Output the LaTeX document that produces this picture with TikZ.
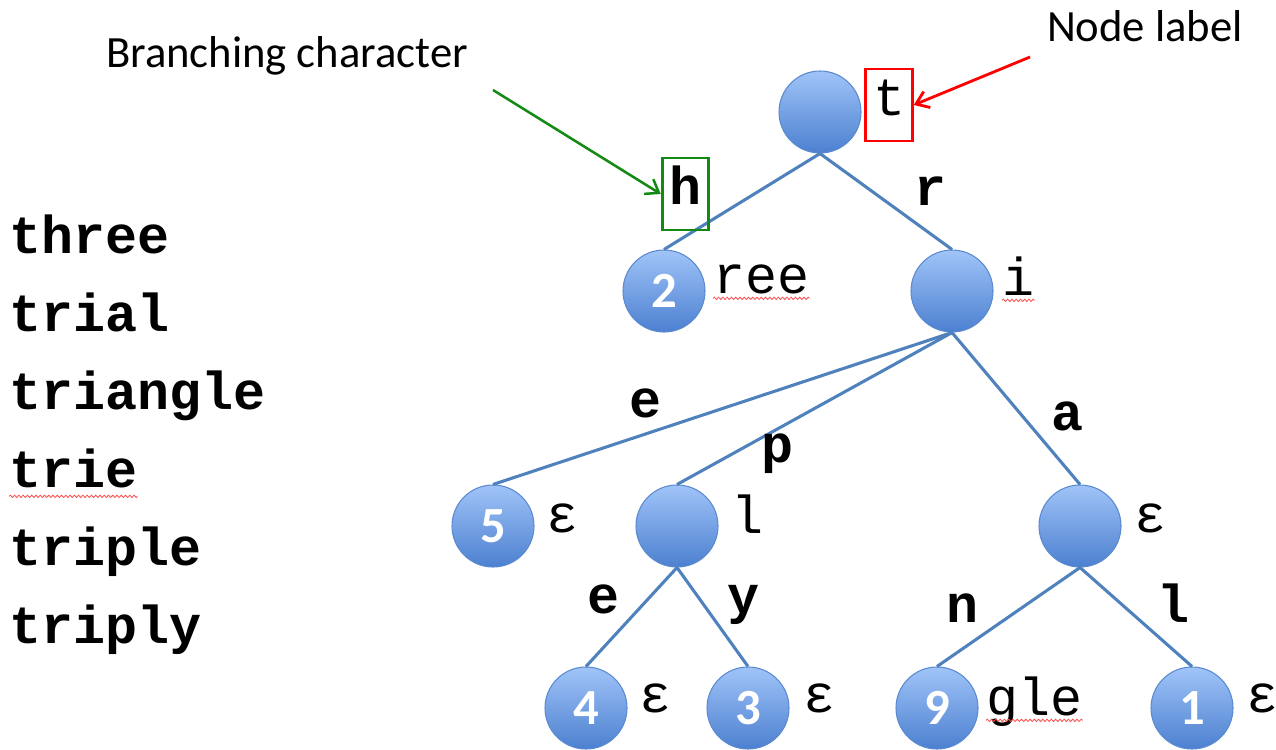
\documentclass[tikz,border=0pt]{standalone}
\usepackage{fontspec}
\setmainfont{Carlito}
\setmonofont{Liberation Mono}
\usetikzlibrary{arrows.meta,decorations.pathmorphing}
\definecolor{edgeblue}{HTML}{4F81BD}
\definecolor{ringblue}{HTML}{5A8AD0}
\definecolor{topblue}{HTML}{A0C4F8}
\definecolor{botblue}{HTML}{4C80D0}
\definecolor{boxgreen}{HTML}{138A13}

\begin{document}
\begin{tikzpicture}[x=0.75pt,y=-0.75pt,>={Straight Barb[length=9pt,width=13pt]},
  trie/.style={circle,draw=ringblue,line width=0.8pt,minimum size=61.5pt,inner sep=0pt,
    top color=topblue,bottom color=botblue,text=white,font=\fontsize{38}{38}\selectfont\bfseries},
  branch/.style={edgeblue,line width=2.3pt},
  lab/.style={anchor=base west,inner sep=0pt,font=\ttfamily\fontsize{40}{40}\selectfont},
  chr/.style={anchor=base,inner sep=0pt,font=\ttfamily\bfseries\fontsize{40}{40}\selectfont},
  word/.style={chr,anchor=base west},
  hint/.style={anchor=base,font=\fontsize{33.5}{33.5}\selectfont},
  markbox/.style={draw=#1,line width=2.1pt,inner sep=0pt,text height=24pt,text depth=8pt,
    minimum height=54pt,minimum width=35pt},
  squiggle/.style={red!70,line width=0.6pt,decorate,
    decoration={snake,amplitude=0.9pt,segment length=3.2pt}}]
  \path[use as bounding box] (0,0) rectangle (1276,749);

  \node[trie] (root) at (820,112) {};
  \node[trie] (n2) at (664,291) {2};
  \node[trie] (ni) at (952,291) {};
  \node[trie] (n5) at (493,526) {5};
  \node[trie] (nl) at (677,526) {};
  \node[trie] (na) at (1080,526) {};
  \node[trie] (n4) at (586,708) {4};
  \node[trie] (n3) at (748,708) {3};
  \node[trie] (n9) at (937,708) {9};
  \node[trie] (n1) at (1192,708) {1};

  \draw[branch] (root.south) -- (n2.north);
  \draw[branch] (root.south) -- (ni.north);
  \draw[branch] (ni.south) -- (n5.north);
  \draw[branch] (ni.south) -- (nl.north);
  \draw[branch] (ni.south) -- (na.north);
  \draw[branch] (nl.south) -- (n4.north);
  \draw[branch] (nl.south) -- (n3.north);
  \draw[branch] (na.south) -- (n9.north);
  \draw[branch] (na.south) -- (n1.north);

  \node[markbox=red,font=\ttfamily\fontsize{40}{40}\selectfont] (tlab) at (889,105) {t};
  \node[lab] (ree) at (713,293) {ree};
  \node[lab] (il) at (1002,295) {i};
  \node[lab] (e5) at (546,532) {ε};
  \node[lab] (ll) at (731,533) {l};
  \node[lab] (ea) at (1134,532) {ε};
  \node[lab] (e4) at (639,712) {ε};
  \node[lab] (e3) at (803,712) {ε};
  \node[lab] (gle) at (986,715) {gle};
  \node[lab] (e1) at (1246,712) {ε};

  \node[chr,markbox=boxgreen,anchor=center] (ch) at (685.5,194) {h};
  \node[chr] (cr) at (930,205) {r};
  \node[chr] (ce) at (645,417) {e};
  \node[chr] (cp) at (777,462) {p};
  \node[chr] (ca) at (1067,430) {a};
  \node[chr] (ce2) at (603,613) {e};
  \node[chr] (cy) at (743,613) {y};
  \node[chr] (cn) at (962,622) {n};
  \node[chr] (cl) at (1173,622) {l};

  \foreach \w [count=\i from 0] in {three,trial,triangle,trie,triple,triply}
    \node[word] (w\i) at (9,253+78*\i) {\w};

  \node[hint] (nodelab) at (1145,42) {Node label};
  \node[hint] (branchlab) at (287,68) {Branching character};
  \coordinate (redtail) at (1030,57);
  \coordinate (greentail) at (493,90);
  \draw[->,red,line width=2.1pt] (redtail) -- (tlab.east);
  \draw[->,boxgreen,line width=1.9pt] (greentail) -- (ch.west);

  \draw[squiggle] ([yshift=-4pt]ree.base west) -- ([yshift=-4pt]ree.base east);
  \draw[squiggle] ([yshift=-4pt]il.base west) -- ([yshift=-4pt]il.base east);
  \draw[squiggle] ([yshift=-4pt]gle.base west) -- ([yshift=-4pt]gle.base east);
  \draw[squiggle] ([yshift=-7pt]w3.base west) -- ([yshift=-7pt]w3.base east);
\end{tikzpicture}
\end{document}
